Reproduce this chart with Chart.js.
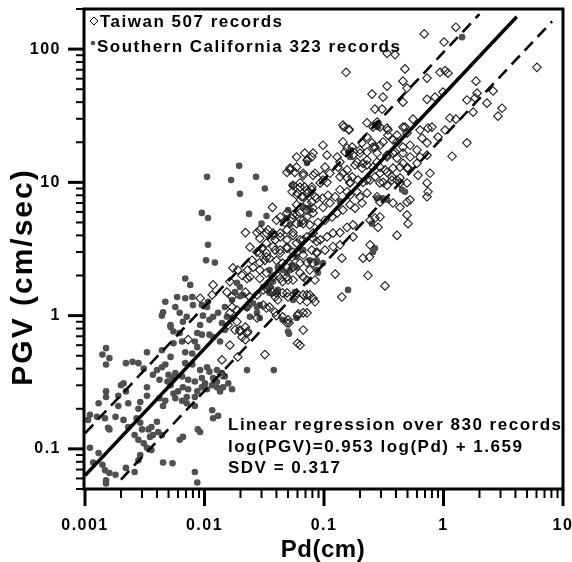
<!DOCTYPE html>
<html>
<head>
<meta charset="utf-8">
<script src="https://cdn.jsdelivr.net/npm/chart.js@4.4.1/dist/chart.umd.min.js"></script>
<style>
  body { margin: 0; background: #fff; }
  #wrap { width: 572px; height: 562px; }
</style>
</head>
<body>
<div id="wrap"><canvas id="pgvChart" width="572" height="562"></canvas></div>
<script>
// Taiwan records [Pd (cm), PGV (cm/sec)]
const taiwanPoints = [
  [1.27,146],[0.69,130],[1.01,113],[0.337,93],[0.393,91],
  [0.153,67],[0.476,71],[0.935,67],[1.03,69],[1.09,66],
  [6.05,73],[1.87,57.5],[0.458,57.5],[0.728,60.6],[0.337,52.8],
  [0.495,51],[0.252,46],[0.312,43.6],[0.458,40],[0.728,42],
  [0.849,43.6],[0.99,47.6],[1.57,41.5],[1.84,43],[1.91,46.7],
  [2.31,39.3],[2.6,48.5],[1.77,33.7],[3.09,36],[2.86,31.4],
  [1.13,30.4],[1.27,29.8],[1.03,24.7],[0.90,21.9],[1.57,19.8],
  [1.18,15.7],[0.267,35.5],[0.306,35.5],[0.278,28.3],[0.257,26],
  [0.294,26],[0.147,26],[0.162,25],[0.343,24.7],[0.408,22.6],
  [0.476,26],[0.556,29.8],[0.636,24.7],[0.742,25.5],[0.098,19],
  [0.144,20.1],[0.172,18.4],[0.208,19.8],[0.229,21.9],[0.257,18.4],
  [0.312,20.1],[0.408,20.1],[0.458,18.4],[0.525,19],[0.60,17.5],
  [0.661,21.5],[0.728,19.8],[0.80,26],[0.106,16],[0.129,15.5],
  [0.15,16.9],[0.175,16],[0.20,16.6],[0.229,14.7],[0.278,16.6],
  [0.337,15.5],[0.393,16.9],[0.458,16.6],[0.525,15.5],[0.636,15.5],
  [0.728,16],[0.102,13],[0.112,11.7],[0.131,13],[0.156,12.4],
  [0.182,13.5],[0.208,12.8],[0.257,13],[0.294,11.7],[0.337,11.9],
  [0.378,12.8],[0.433,13],[0.505,12.8],[0.60,13.9],[0.098,10.4],
  [0.136,11],[0.165,9.9],[0.229,10.4],[0.312,10.0],[0.37,10.4],
  [0.433,10.8],[0.495,9.9],[0.612,11.3],[0.728,9.9],[0.771,11.7],
  [0.059,15.5],[0.069,16.6],[0.079,15.5],[0.073,14.7],[0.052,12.4],
  [0.057,11.9],[0.067,11.7],[0.081,11.3],[0.049,11.9],[0.059,13],
  [0.055,9.5],[0.063,9.9],[0.069,9.2],[0.054,8.5],[0.059,8.0],
  [0.065,7.8],[0.072,8.3],[0.079,8.8],[0.059,6.8],[0.072,7.0],
  [0.079,7.1],[0.087,7.6],[0.037,6.5],[0.040,5.2],[0.049,5.9],
  [0.047,5.0],[0.054,5.4],[0.059,5.7],[0.067,4.9],[0.072,5.5],
  [0.081,5.9],[0.022,4.2],[0.0275,4.2],[0.029,3.8],[0.034,4.4],
  [0.0375,4.16],[0.039,3.7],[0.043,3.9],[0.049,3.7],[0.055,4.2],
  [0.059,3.5],[0.067,3.7],[0.072,3.9],[0.081,4.16],[0.087,3.6],
  [0.024,3.27],[0.0275,3.0],[0.030,3.2],[0.033,2.95],[0.039,3.1],
  [0.043,2.95],[0.049,3.2],[0.054,2.75],[0.059,3.0],[0.067,2.85],
  [0.079,3.1],[0.025,2.6],[0.029,2.5],[0.032,2.6],[0.035,2.7],
  [0.0173,2.28],[0.019,2.2],[0.023,2.2],[0.0255,2.3],[0.0206,2.0],
  [0.0227,1.9],[0.024,1.95],[0.029,1.9],[0.0375,1.95],[0.041,2.0],
  [0.045,1.8],[0.050,1.85],[0.063,2.09],[0.072,1.85],[0.076,2.2],
  [0.084,1.85],[0.0118,1.7],[0.0163,1.8],[0.0092,1.35],[0.0116,1.43],
  [0.0154,1.5],[0.017,1.38],[0.022,1.5],[0.024,1.38],[0.0275,1.43],
  [0.033,1.6],[0.037,1.5],[0.039,1.38],[0.041,1.31],[0.045,1.48],
  [0.050,1.38],[0.059,1.48],[0.063,1.31],[0.072,1.43],[0.081,1.35],
  [0.084,1.27],[0.017,1.16],[0.0187,1.1],[0.0227,1.16],[0.031,1.2],
  [0.033,1.14],[0.035,1.16],[0.039,1.06],[0.040,1.0],[0.045,0.98],
  [0.050,0.93],[0.060,1.0],[0.072,1.05],[0.022,0.82],[0.0198,0.78],
  [0.023,0.76],[0.0187,0.90],[0.0163,1.05],[0.067,0.78],[0.144,26.9],
  [0.229,28],[0.278,26.9],[0.337,25.5],[0.378,20.8],[0.495,23.4],
  [0.156,18.1],[0.229,16.9],[0.252,19.8],[0.294,19],[0.408,15.2],
  [0.458,13.9],[0.081,16.6],[0.136,14.2],[0.189,14.2],[0.229,13.5],
  [0.278,14.2],[0.324,12.4],[0.098,11.3],[0.144,11.7],[0.156,10.8],
  [0.172,11],[0.193,10.4],[0.212,10],[0.267,11],[0.294,9.9],
  [0.337,9.5],[0.408,10.4],[0.063,9.2],[0.093,9.9],[0.106,10.0],
  [0.084,7.8],[0.097,7.6],[0.108,8.0],[0.124,7.8],[0.136,8.8],
  [0.156,8.5],[0.165,8.0],[0.189,8.5],[0.20,7.8],[0.229,8.3],
  [0.294,7.1],[0.378,7.0],[0.433,6.5],[0.495,7.1],[0.043,5.5],
  [0.063,5.9],[0.098,6.5],[0.112,7.0],[0.076,4.8],[0.089,5.0],
  [0.102,5.2],[0.117,5.5],[0.129,5.9],[0.144,6.2],[0.165,6.8],
  [0.182,6.4],[0.208,7.0],[0.243,5.2],[0.267,5.4],[0.283,4.6],
  [0.495,5.7],[0.505,4.9],[0.029,4.4],[0.049,4.4],[0.063,3.7],
  [0.093,3.7],[0.106,3.9],[0.119,4.16],[0.136,4.2],[0.156,4.6],
  [0.175,4.8],[0.0375,3.3],[0.102,3.1],[0.119,3.3],[0.136,3.4],
  [0.243,3.4],[0.212,2.7],[0.24,2.75],[0.408,4.0],[0.141,2.7],
  [0.040,2.6],[0.045,2.48],[0.063,2.48],[0.072,2.5],[0.029,2.2],
  [0.033,2.09],[0.055,1.85],[0.067,1.95],[0.124,2.05],[0.233,2.0],
  [0.324,1.67],[0.031,1.56],[0.141,1.38],[0.525,7.4],[0.728,7.8],
  [0.742,8.5],[0.175,3.9],[0.072,1.27],[0.067,1.05],[0.063,0.60],
  [0.087,3.0],[0.051,0.88],[0.061,1.03],[0.060,0.62],[0.0073,0.66],
  [0.014,0.465],[0.032,0.51],[0.0198,0.76],[0.0227,0.74],[0.0275,0.96],
  [0.049,0.88],[0.014,0.36],[0.019,0.49],[0.0158,0.85],[0.018,0.78],
  [0.0206,0.69],[0.022,0.66],[0.0163,0.60],
  [0.072,14.7],[0.052,12.8],[0.067,11.3],[0.084,11.7],[0.162,24.7],
  [0.343,22.6],[0.458,26],[0.165,16.9],[0.20,17.5],[0.267,18.4],
  [0.337,16],[0.378,16.6],[0.495,12.8],[0.212,13.9],[0.294,13],
  [0.165,10],[0.243,10.4],[0.37,11],[0.433,9.9],[0.072,8.8],
  [0.079,9.2],[0.060,8.3],[0.067,7.8],[0.278,7.8],[0.055,5.7],
  [0.072,6.2],[0.081,6.4],[0.059,4.9],[0.067,5.2],[0.294,5.5],
  [0.033,4.16],[0.0375,4.0],[0.043,4.16],[0.055,4.0],[0.081,3.8],
  [0.033,3.5],[0.043,3.1],[0.049,3.27],[0.055,3.0],[0.087,2.95],
  [0.029,2.95],[0.033,2.75],[0.049,2.3],[0.055,2.3],[0.081,2.48],
  [0.043,1.9],[0.049,1.95],[0.035,1.64],[0.040,1.48],[0.049,1.48],
  [0.067,1.43],[0.076,1.43]
];

// Southern California records [Pd (cm), PGV (cm/sec)]
const socalPoints = [
  [0.0052,0.85],[0.0055,0.76],[0.0092,0.85],[0.0095,0.72],[0.011,0.72],
  [0.0015,0.57],[0.0014,0.51],[0.0016,0.48],[0.0015,0.43],[0.0033,0.53],
  [0.0044,0.55],[0.0052,0.49],[0.0065,0.64],[0.0069,0.53],[0.0087,0.58],
  [0.0079,0.52],[0.0022,0.44],[0.0025,0.45],[0.0028,0.44],[0.0031,0.40],
  [0.0040,0.39],[0.0044,0.41],[0.0037,0.36],[0.0047,0.43],[0.0069,0.44],
  [0.0079,0.43],[0.0092,0.39],[0.0105,0.41],[0.011,0.38],[0.0127,0.39],
  [0.0050,0.36],[0.0054,0.34],[0.0057,0.37],[0.0042,0.33],[0.0049,0.32],
  [0.0052,0.30],[0.0065,0.35],[0.0073,0.33],[0.0083,0.32],[0.0095,0.34],
  [0.0101,0.31],[0.0118,0.34],[0.0127,0.32],[0.0020,0.30],[0.0022,0.27],
  [0.0019,0.25],[0.0015,0.27],[0.0015,0.245],[0.0013,0.22],[0.0019,0.21],
  [0.0023,0.22],[0.0028,0.20],[0.0029,0.225],[0.0033,0.25],[0.0033,0.29],
  [0.0042,0.24],[0.0047,0.23],[0.0045,0.21],[0.0055,0.26],[0.0060,0.27],
  [0.0066,0.29],[0.0073,0.28],[0.0057,0.24],[0.0065,0.23],[0.0071,0.245],
  [0.0083,0.245],[0.0087,0.27],[0.0095,0.29],[0.0105,0.28],[0.0116,0.30],
  [0.0127,0.29],[0.0135,0.27],[0.0143,0.29],[0.0158,0.31],[0.017,0.28],
  [0.014,0.37],[0.0148,0.35],[0.0227,0.39],[0.0116,0.195],[0.0118,0.17],
  [0.0083,0.21],[0.0071,0.22],[0.0011,0.18],[0.00106,0.165],[0.00126,0.174],
  [0.00147,0.17],[0.0018,0.174],[0.00156,0.144],[0.0016,0.14],[0.0021,0.165],
  [0.0023,0.146],[0.0027,0.17],[0.0029,0.157],[0.0030,0.14],[0.0034,0.14],
  [0.0035,0.123],[0.0037,0.127],[0.0026,0.127],[0.0028,0.117],[0.0031,0.11],
  [0.0036,0.146],[0.0040,0.16],[0.0066,0.123],[0.0062,0.117],[0.0088,0.14],
  [0.0044,0.127],[0.0011,0.102],[0.0013,0.093],[0.00117,0.079],[0.0014,0.076],
  [0.00147,0.069],[0.0016,0.066],[0.0018,0.064],[0.0015,0.058],[0.0015,0.055],
  [0.0029,0.090],[0.0028,0.082],[0.0022,0.072],[0.0026,0.067],[0.0045,0.079],
  [0.0054,0.078],[0.0087,0.056],[0.0083,0.067],[0.0033,0.102],[0.0036,0.098],
  [0.0021,0.31],[0.013,0.177],[0.0092,0.134],[0.0041,0.134],[0.038,0.39],
  [0.0105,11],[0.0195,13.3],[0.0167,10.4],[0.027,11],[0.0198,8.2],
  [0.032,9.0],[0.0095,5.9],[0.0107,5.4],[0.0236,5.8],[0.033,5.6],
  [0.030,4.9],[0.0107,3.4],[0.0103,2.6],[0.0122,2.5],[0.052,4.8],
  [0.049,5.4],[0.050,6.2],[0.072,14],[0.054,9.5],[0.0069,1.9],
  [0.0076,1.7],[0.0187,1.76],[0.0198,1.64],[0.018,1.5],[0.0198,1.4],
  [0.021,1.43],[0.017,1.31],[0.0255,1.24],[0.0275,1.16],[0.029,1.2],
  [0.0059,1.38],[0.0057,1.16],[0.0047,1.27],[0.0045,1.06],[0.0069,1.35],
  [0.0079,1.38],[0.0080,1.2],[0.0062,1.05],[0.0071,0.98],[0.0066,0.90],
  [0.0095,1.2],[0.0105,1.16],[0.0097,1.0],[0.0118,0.98],[0.013,1.05],
  [0.0148,1.16],[0.0154,0.98],[0.017,0.96],[0.0062,0.74],[0.0087,0.74],
  [0.014,0.88],[0.0148,0.78],[0.0227,1.14],[0.024,0.98],[0.0275,1.05],
  [0.029,0.96],[0.050,0.76],[0.059,0.96],[0.035,2.2],[0.041,2.3],
  [0.045,2.2],[0.049,2.1],[0.052,2.2],[0.031,1.64],[0.035,1.48],
  [0.040,1.5],[0.059,2.75],[0.067,3.1],[0.076,2.6],[0.087,2.6],
  [0.089,2.1],[0.055,1.31],[0.057,1.5],[0.067,6.5],[0.076,6.2],
  [0.087,2.2],[0.0044,1.0],[0.0052,0.82],[0.011,0.93],[0.0118,0.69],
  [0.0135,0.64],[0.0083,0.64],[0.0055,0.62],[0.0107,1.27],
  [0.16,16.6],[0.165,15.5],[0.267,27],[0.283,26],[0.278,7.6],
  [0.31,7.6],[0.337,7.4],[0.252,4.9],[0.267,3.2],[0.257,3.0],
  [0.159,1.56],[0.087,2.5],[0.098,2.48],[0.054,2.4],[0.059,2.3],
  [0.0375,1.8],[0.035,1.64],[0.041,1.56],[0.45,8.8],[0.476,8.5],
  [1.43,123],[0.051,0.73],[0.045,0.93],[0.136,7.2],[0.073,6.4],[0.063,4.9]
];

// regression log(PGV) = slope*log(Pd) + intercept, +/- 1 SDV
const slope = 0.953;
const intercept = 1.659;
const sdv = 0.317;
const fitPd = [0.001, 4.1];
const upperPd = [0.001, 2.0];
const lowerPd = [0.002, 8.1];

const xMajor = [0.001, 0.01, 0.1, 1, 10];
const xLabels = ['0.001', '0.01', '0.1', '1', '10'];
const yMajor = [0.1, 1, 10, 100];
const yLabels = ['0.1', '1', '10', '100'];
const minorSteps = [2, 3, 4, 5, 6, 7, 8, 9];

const legendLabels = ['Taiwan 507 records', 'Southern California 323 records'];
const noteLines = [
  'Linear regression over 830 records',
  'log(PGV)=0.953 log(Pd) + 1.659',
  'SDV = 0.317'
];

const fontFamily = '"Liberation Sans", Arial, Helvetica, sans-serif';

function lineData(pds, shift) {
  return pds.map(pd => ({ x: pd, y: Math.pow(10, slope * Math.log10(pd) + intercept + shift) }));
}

function minorTicks(min, max) {
  const out = [];
  for (let d = Math.floor(Math.log10(min)); d <= Math.ceil(Math.log10(max)); d++) {
    minorSteps.forEach(m => {
      const v = m * Math.pow(10, d);
      if (v >= min * 0.999 && v <= max * 1.001) out.push(v);
    });
  }
  return out;
}

// no extra label padding around the plot box, the box is fixed
function fixBox(s, size) {
  if (s.isHorizontal()) s.height = size; else s.width = size;
  s.paddingLeft = 0;
  s.paddingRight = 0;
  s.paddingTop = 0;
  s.paddingBottom = 0;
}

const framePlugin = {
  id: 'frame',
  beforeDraw(chart) {
    chart.ctx.letterSpacing = '1.5px';
  },
  afterDraw(chart) {
    const ctx = chart.ctx;
    const a = chart.chartArea;
    const xs = chart.scales.x;
    const ys = chart.scales.y;
    ctx.save();
    ctx.strokeStyle = '#000';
    ctx.fillStyle = '#000';

    // tick marks (outside)
    const tick = (scale, v, len, w, horiz) => {
      const p = scale.getPixelForValue(v);
      ctx.lineWidth = w;
      ctx.beginPath();
      if (horiz) { ctx.moveTo(p, a.bottom); ctx.lineTo(p, a.bottom + len); }
      else { ctx.moveTo(a.left, p); ctx.lineTo(a.left - len, p); }
      ctx.stroke();
    };
    minorTicks(0.001, 10).forEach(v => tick(xs, v, 9, 2, true));
    xMajor.forEach(v => tick(xs, v, 17, 3, true));
    minorTicks(0.05, 200).forEach(v => tick(ys, v, 9, 2, false));
    yMajor.forEach(v => tick(ys, v, 17, 3, false));

    // frame
    ctx.lineWidth = 3;
    ctx.strokeRect(a.left - 1, a.top, a.right - a.left + 1, a.bottom - a.top);

    // legend
    ctx.font = 'bold 17px ' + fontFamily;
    ctx.letterSpacing = '1.5px';
    ctx.textAlign = 'left';
    ctx.textBaseline = 'alphabetic';
    ctx.lineWidth = 1;
    ctx.beginPath();
    ctx.moveTo(94, 17); ctx.lineTo(98, 21); ctx.lineTo(94, 25); ctx.lineTo(90, 21);
    ctx.closePath();
    ctx.stroke();
    ctx.fillText(legendLabels[0], 100, 27);
    ctx.fillStyle = '#505050';
    ctx.beginPath();
    ctx.arc(93, 43, 2.3, 0, Math.PI * 2);
    ctx.fill();
    ctx.fillStyle = '#000';
    ctx.fillText(legendLabels[1], 97, 52);

    // regression note
    noteLines.forEach((t, i) => ctx.fillText(t, 228, 430 + i * 21.5));

    // axis titles
    ctx.textAlign = 'center';
    ctx.font = 'bold 24px ' + fontFamily;
    ctx.letterSpacing = '0.5px';
    ctx.fillText('Pd(cm)', 323, 557);

    ctx.font = 'bold 30px ' + fontFamily;
    ctx.letterSpacing = '2px';
    ctx.translate(32, 277);
    ctx.rotate(-Math.PI / 2);
    ctx.fillText('PGV (cm/sec)', 0, 0);
    ctx.restore();
  }
};

const tickFont = { family: fontFamily, size: 16, weight: 'bold' };

new Chart(document.getElementById('pgvChart'), {
  type: 'scatter',
  data: {
    datasets: [
      {
        type: 'line',
        label: 'fit',
        data: lineData(fitPd, 0),
        borderColor: '#000',
        borderWidth: 3.5,
        pointRadius: 0,
        fill: false,
        order: 0
      },
      {
        type: 'line',
        label: '+1 SDV',
        data: lineData(upperPd, sdv),
        borderColor: '#000',
        borderWidth: 2.6,
        borderDash: [12, 7],
        pointRadius: 0,
        fill: false,
        order: 0
      },
      {
        type: 'line',
        label: '-1 SDV',
        data: lineData(lowerPd, -sdv),
        borderColor: '#000',
        borderWidth: 2.6,
        borderDash: [12, 7],
        pointRadius: 0,
        fill: false,
        order: 0
      },
      {
        label: legendLabels[0],
        data: taiwanPoints.map(p => ({ x: p[0], y: p[1] })),
        pointStyle: 'rectRot',
        pointRadius: 4.3,
        borderColor: '#1e1e1e',
        borderWidth: 1.1,
        backgroundColor: 'rgba(255,255,255,0)',
        order: 1
      },
      {
        label: legendLabels[1],
        data: socalPoints.map(p => ({ x: p[0], y: p[1] })),
        pointStyle: 'circle',
        pointRadius: 3.3,
        borderWidth: 0,
        backgroundColor: '#505050',
        order: 2
      }
    ]
  },
  options: {
    responsive: false,
    animation: false,
    layout: { padding: { top: 9, right: 9, left: 0, bottom: 0 } },
    plugins: { legend: { display: false }, tooltip: { enabled: false } },
    scales: {
      x: {
        type: 'logarithmic',
        min: 0.001,
        max: 10,
        afterFit: s => fixBox(s, 73),
        afterBuildTicks: s => { s.ticks = xMajor.map(v => ({ value: v })); },
        ticks: {
          autoSkip: false,
          maxRotation: 0,
          padding: 27,
          color: '#000',
          font: tickFont,
          callback: (v, i) => xLabels[i]
        },
        grid: { display: false, drawTicks: false },
        border: { display: false }
      },
      y: {
        type: 'logarithmic',
        min: 0.05,
        max: 200,
        afterFit: s => fixBox(s, 85),
        afterBuildTicks: s => { s.ticks = yMajor.map(v => ({ value: v })); },
        ticks: {
          autoSkip: false,
          padding: 24,
          color: '#000',
          font: tickFont,
          callback: (v, i) => yLabels[i]
        },
        grid: { display: false, drawTicks: false },
        border: { display: false }
      }
    }
  },
  plugins: [framePlugin]
});
</script>
</body>
</html>
